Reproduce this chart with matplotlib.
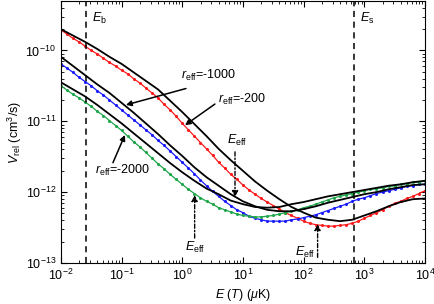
import numpy as np
import matplotlib
matplotlib.use('Agg')
import matplotlib.pyplot as plt

plt.rcParams['font.family'] = ['Liberation Sans', 'DejaVu Sans']
plt.rcParams['mathtext.fontset'] = 'custom'
plt.rcParams['mathtext.rm'] = 'Liberation Sans'
plt.rcParams['mathtext.it'] = 'Liberation Sans:italic'
plt.rcParams['mathtext.bf'] = 'Liberation Sans:bold'

# energy grids (log10 of E in uK)
logE_fine = np.round(np.arange(-2.0, 4.0001, 0.1), 2)
logE_coarse = np.round(np.arange(-2.0, 4.0001, 0.2), 2)

# log10 of V_rel (cm^3/s), numerical data (dots)
red_200 = [-9.71, -9.77, -9.83, -9.88, -9.94, -10.00, -10.05, -10.11, -10.17, -10.22,
           -10.28, -10.33, -10.40, -10.46, -10.53, -10.60, -10.67, -10.76, -10.84, -10.93,
           -11.03, -11.12, -11.21, -11.30, -11.39, -11.48, -11.58, -11.66, -11.75, -11.82,
           -11.90, -11.97, -12.03, -12.09, -12.14, -12.19, -12.24, -12.29, -12.33, -12.37,
           -12.41, -12.44, -12.46, -12.47, -12.48, -12.48, -12.47, -12.46, -12.44, -12.41,
           -12.37, -12.33, -12.29, -12.25, -12.20, -12.16, -12.13, -12.09, -12.06, -12.02,
           -11.98]
blue_1000 = [-10.19, -10.25, -10.31, -10.38, -10.44, -10.50, -10.57, -10.63, -10.70, -10.77,
             -10.84, -10.91, -10.98, -11.05, -11.12, -11.19, -11.27, -11.34, -11.42, -11.50,
             -11.58, -11.66, -11.74, -11.83, -11.91, -11.99, -12.06, -12.13, -12.19, -12.25,
             -12.29, -12.34, -12.37, -12.39, -12.41, -12.41, -12.41, -12.41, -12.39, -12.38,
             -12.36, -12.34, -12.32, -12.29, -12.26, -12.23, -12.20, -12.17, -12.13, -12.10,
             -12.08, -12.05, -12.02, -12.00, -11.98, -11.96, -11.94, -11.92, -11.91, -11.89,
             -11.89]
green_2000 = [-10.50, -10.56, -10.62, -10.67, -10.73, -10.79, -10.86, -10.92, -10.99, -11.06,
              -11.13, -11.21, -11.29, -11.36, -11.44, -11.52, -11.60, -11.67, -11.75, -11.82,
              -11.89, -11.96, -12.02, -12.08, -12.13, -12.17, -12.22, -12.25, -12.28, -12.31,
              -12.33, -12.34, -12.35, -12.35, -12.34, -12.33, -12.31, -12.29, -12.27, -12.25,
              -12.22, -12.20, -12.17, -12.14, -12.11, -12.08, -12.06, -12.04, -12.02, -12.00,
              -11.98, -11.96, -11.95, -11.94, -11.92, -11.91, -11.89, -11.88, -11.86, -11.86,
              -11.84]

# log10 of V_rel, approximations (black lines)
black_200 = [-9.70, -9.79, -9.88, -9.98, -10.09, -10.19, -10.31, -10.43, -10.55, -10.71,
             -10.87, -11.04, -11.21, -11.39, -11.55, -11.70, -11.85, -11.98, -12.10, -12.21,
             -12.29, -12.36, -12.39, -12.41, -12.39, -12.33, -12.27, -12.20, -12.14, -12.10,
             -12.09]
black_1000 = [-10.09, -10.22, -10.35, -10.48, -10.60, -10.74, -10.88, -11.03, -11.18, -11.34,
              -11.49, -11.65, -11.79, -11.91, -12.03, -12.13, -12.20, -12.25, -12.27, -12.27,
              -12.24, -12.20, -12.15, -12.11, -12.07, -12.03, -12.00, -11.96, -11.93, -11.90,
              -11.89]
black_2000 = [-10.45, -10.55, -10.65, -10.77, -10.90, -11.03, -11.17, -11.31, -11.45, -11.59,
              -11.72, -11.84, -11.95, -12.03, -12.12, -12.17, -12.21, -12.22, -12.21, -12.17,
              -12.14, -12.10, -12.06, -12.03, -12.00, -11.97, -11.94, -11.91, -11.89, -11.86,
              -11.84]

E_b = 0.026
E_s = 675
E_eff = [1.6, 7.4, 170]

fig = plt.figure(figsize=(4.35, 3.04), dpi=100)
ax = fig.add_axes([0.140, 0.135, 0.837, 0.862])

Ef = 10 ** logE_fine
Ec = 10 ** logE_coarse
ax.plot(Ef, 10 ** np.array(red_200), '-o', color='#ff1a1a', lw=0.9, ms=2.2, mew=0)
ax.plot(Ef, 10 ** np.array(blue_1000), '-o', color='#1a1aff', lw=0.9, ms=2.2, mew=0)
ax.plot(Ef, 10 ** np.array(green_2000), '-o', color='#1fa64a', lw=0.9, ms=2.2, mew=0)
for b in [black_200, black_1000, black_2000]:
    ax.plot(Ec, 10 ** np.array(b), '-', color='black', lw=1.3)

ax.axvline(E_b, color='black', ls=(0, (4, 3)), lw=1.1)
ax.axvline(E_s, color='black', ls=(0, (4, 3)), lw=1.1)

ax.set_xscale('log')
ax.set_yscale('log')
ax.set_xlim(1e-2, 1e4)
ax.set_ylim(1e-13, 5e-10)
ax.tick_params(which='both', direction='in', top=True, right=True, labelsize=9)
ax.tick_params(which='major', length=4)
ax.tick_params(which='minor', length=2)
ax.set_xticks([1e-2, 1e-1, 1e0, 1e1, 1e2, 1e3, 1e4])
ax.set_yticks([1e-13, 1e-12, 1e-11, 1e-10])

ax.set_xlabel(r'$E$ ($T$) ($\mu$K)', fontsize=9, labelpad=3)
ax.set_ylabel(r'$V_{\rm rel}$ (cm$^3$/s)', fontsize=9, labelpad=1)

ax.text(0.032, 2.86e-10, r'$E_{\rm b}$', fontsize=9, va='center')
ax.text(850, 2.86e-10, r'$E_{\rm s}$', fontsize=9, va='center')

arw = dict(arrowstyle='-|>', color='black', lw=1.1, mutation_scale=8, shrinkA=0, shrinkB=0)
ax.text(0.95, 4.5e-11, r'$r_{\rm eff}$=-1000', fontsize=9, va='center')
ax.annotate('', xy=(0.118, 1.7e-11), xytext=(1.15, 2.9e-11), arrowprops=arw)
ax.text(3.9, 2.0e-11, r'$r_{\rm eff}$=-200', fontsize=9, va='center')
ax.annotate('', xy=(1.11, 8.8e-12), xytext=(3.45, 1.75e-11), arrowprops=arw)
ax.text(0.036, 2.05e-12, r'$r_{\rm eff}$=-2000', fontsize=9, va='center')
ax.annotate('', xy=(0.1135, 6.4e-12), xytext=(0.072, 2.6e-12), arrowprops=arw)

dash_arw = dict(arrowstyle='-|>', color='black', lw=1.0, ls=(0, (3, 1.5, 1, 1.5)),
                mutation_scale=9, shrinkA=0, shrinkB=0)
ax.annotate('', xy=(E_eff[1], 8.5e-13), xytext=(E_eff[1], 3.7e-12), arrowprops=dash_arw)
ax.text(E_eff[1] * 1.08, 5.4e-12, r'$E_{\rm eff}$', fontsize=9, ha='center', va='center')
ax.annotate('', xy=(E_eff[0], 9.1e-13), xytext=(E_eff[0], 2.25e-13), arrowprops=dash_arw)
ax.text(E_eff[0], 1.68e-13, r'$E_{\rm eff}$', fontsize=9, ha='center', va='center')
ax.annotate('', xy=(E_eff[2], 3.55e-13), xytext=(E_eff[2], 1.2e-13), arrowprops=dash_arw)
ax.text(154, 1.43e-13, r'$E_{\rm eff}$', fontsize=9, ha='right', va='center')

fig.savefig('out.png', dpi=100)
